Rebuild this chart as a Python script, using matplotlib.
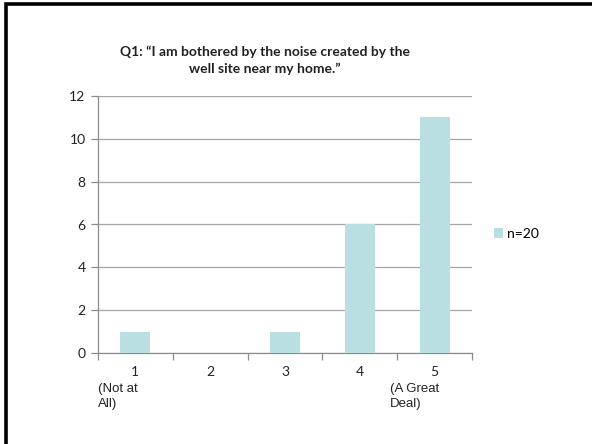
import matplotlib
matplotlib.use("Agg")
import matplotlib.pyplot as plt
from matplotlib.patches import Rectangle, Patch

# survey responses for Q1
categories = ["1", "2", "3", "4", "5"]
sub_labels = ["(Not at\nAll)", "", "", "", "(A Great\nDeal)"]
counts = [1, 0, 1, 6, 11]
series_name = "n=20"

bar_color = "#B9DFE3"
grid_color = "#A6A6A6"
axis_color = "#8C8C8C"
text_color = "#222222"

fig = plt.figure(figsize=(5.92, 4.44), dpi=100)
fig.patch.set_facecolor("white")

# slide frame: only the top and left edges fall inside the image
fig.add_artist(Rectangle((6 / 592, -0.5), 2.0, 1.5 - 4.5 / 444, transform=fig.transFigure,
                         fill=False, edgecolor="black", linewidth=2.6))

ax = fig.add_axes([98 / 592, 91 / 444, 374 / 592, 257 / 444])
x = list(range(1, len(categories) + 1))
ax.bar(x, counts, width=0.4, color=bar_color, zorder=3, label=series_name)

ax.set_xlim(0.5, len(categories) + 0.5)
ax.set_ylim(0, 12)
ax.set_yticks(range(0, 13, 2))
ax.yaxis.grid(True, color=grid_color, linewidth=0.9, zorder=0)
ax.tick_params(axis="y", length=5, width=0.9, color=axis_color, labelsize=10,
               labelcolor=text_color, pad=4)
for lbl in ax.get_yticklabels():
    lbl.set_family("Lato")

# category boundaries carry the tick marks, labels sit at the centres
ax.set_xticks([i + 0.5 for i in range(len(categories) + 1)])
ax.set_xticklabels([])
ax.tick_params(axis="x", length=5, width=0.9, color=axis_color, direction="out")
ax.set_xticks(x, minor=True)
ax.set_xticklabels(categories, minor=True, family="Lato", fontsize=10, color=text_color)
ax.tick_params(axis="x", which="minor", length=0, pad=9)

for i, sub in enumerate(sub_labels):
    if sub:
        ax.text(x[i] - 0.5 + (0 if i == 0 else -0.1), -1.4, sub, ha="left", va="top",
                fontsize=9.5, family="Liberation Sans", color=text_color,
                linespacing=1.3, transform=ax.transData)

for side in ["top", "right"]:
    ax.spines[side].set_visible(False)
for side in ["left", "bottom"]:
    ax.spines[side].set_color(axis_color)
    ax.spines[side].set_linewidth(0.9)

fig.text(265 / 592, 1 - 60 / 444,
         "Q1: \u201cI am bothered by the noise created by the\nwell site near my home.\u201d",
         ha="center", va="center", fontsize=10, fontweight="bold", family="Lato",
         color=text_color, linespacing=1.45)

fig.legend(handles=[Patch(facecolor=bar_color, edgecolor="none")], labels=[series_name],
           loc="center left", bbox_to_anchor=(481 / 592, 1 - 234 / 444), frameon=False,
           handlelength=0.7, handleheight=0.7, handletextpad=0.3,
           prop={"family": "Lato", "size": 10})

fig.savefig("out.png", dpi=100)
